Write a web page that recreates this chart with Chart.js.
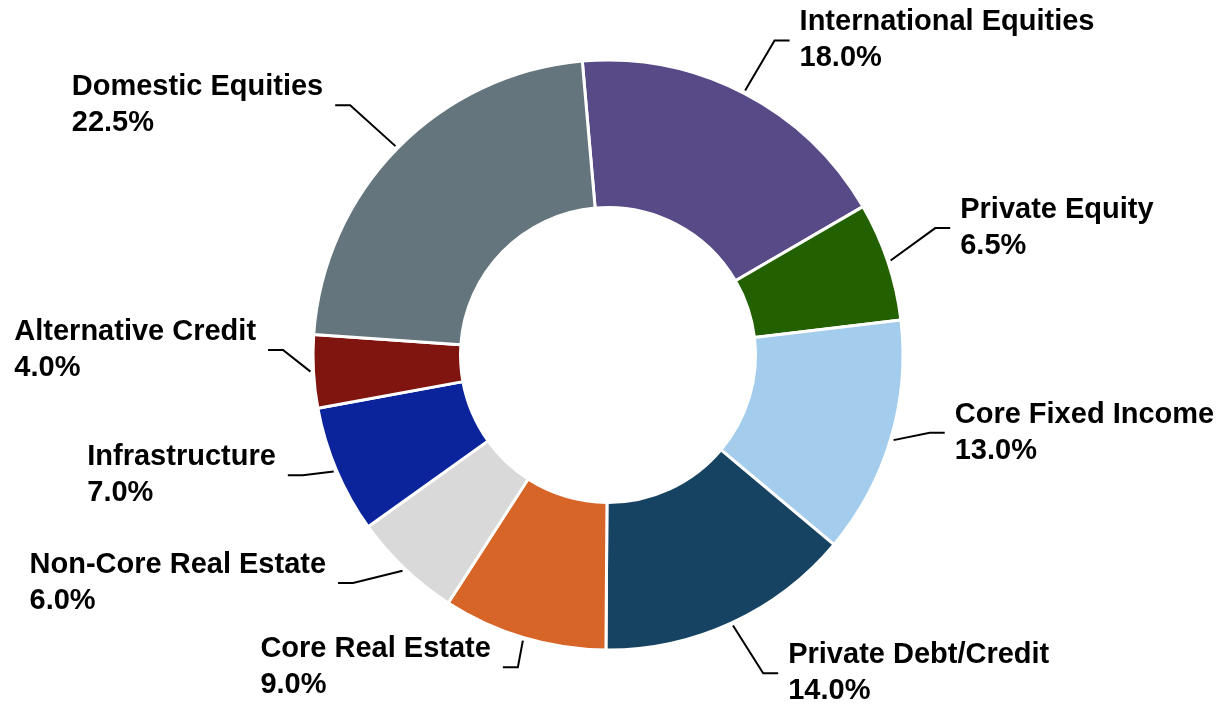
<!DOCTYPE html>
<html lang="en">
<head>
    <meta charset="UTF-8">
    <title>Asset Allocation</title>
    <script src="https://cdn.jsdelivr.net/npm/chart.js"></script>
    <style>
        body { margin: 0; background: #fff; }
        canvas { display: block; }
    </style>
</head>
<body>
    <canvas id="allocChart" width="1225" height="707"></canvas>

    <script>
        const categories = [
            'International Equities', 'Private Equity', 'Core Fixed Income',
            'Private Debt/Credit', 'Core Real Estate', 'Non-Core Real Estate',
            'Infrastructure', 'Alternative Credit', 'Domestic Equities'
        ];
        const allocations = [18.0, 6.5, 13.0, 14.0, 9.0, 6.0, 7.0, 4.0, 22.5];
        const sliceColors = [
            '#574A87', '#226000', '#A4CDED', '#174362', '#D86528',
            '#D9D9D9', '#0B249B', '#801510', '#64757D'
        ];

        // label placement: extra leader length past the ring (px) and angle nudge (deg)
        const leaderLength = [61, 56, 36, 59, 30, 47, 33, 30, 64];
        const leaderNudge = [0.5, -2.7, -3, -1.2, -0.5, 4.6, 1.5, 4.1, -0.4];

        const outsideLabels = {
            id: 'outsideLabels',
            afterDatasetsDraw(chart) {
                const ctx = chart.ctx;
                const meta = chart.getDatasetMeta(0);
                ctx.save();
                ctx.font = 'bold 29px "Liberation Sans", Arial, sans-serif';
                ctx.fillStyle = '#000';
                ctx.strokeStyle = '#000';
                ctx.lineWidth = 2;
                ctx.textBaseline = 'middle';
                ctx.textAlign = 'left';
                meta.data.forEach((arc, i) => {
                    const p = arc.getProps(['x', 'y', 'startAngle', 'endAngle', 'outerRadius'], true);
                    const mid = (p.startAngle + p.endAngle) / 2;
                    const bend = mid + leaderNudge[i] * Math.PI / 180;
                    const x0 = p.x + (p.outerRadius + 3) * Math.cos(mid);
                    const y0 = p.y + (p.outerRadius + 3) * Math.sin(mid);
                    const r1 = p.outerRadius + leaderLength[i];
                    const x1 = p.x + r1 * Math.cos(bend);
                    const y1 = p.y + r1 * Math.sin(bend);
                    const right = Math.cos(bend) >= 0;
                    const x2 = right ? x1 + 15 : x1 - 15;

                    ctx.beginPath();
                    ctx.moveTo(x0, y0);
                    ctx.lineTo(x1, y1);
                    ctx.lineTo(x2, y1);
                    ctx.stroke();

                    const lines = [categories[i], allocations[i].toFixed(1) + '%'];
                    const w = Math.max(...lines.map(t => ctx.measureText(t).width));
                    const tx = right ? x2 + 10 : x2 - 12 - w;
                    ctx.fillText(lines[0], tx, y1 - 18);
                    ctx.fillText(lines[1], tx, y1 + 18);
                });
                ctx.restore();
            }
        };

        const ctx = document.getElementById('allocChart').getContext('2d');
        new Chart(ctx, {
            type: 'doughnut',
            data: {
                labels: categories,
                datasets: [{
                    data: allocations,
                    backgroundColor: sliceColors,
                    borderColor: '#ffffff',
                    borderWidth: 3
                }]
            },
            options: {
                responsive: false,
                animation: false,
                devicePixelRatio: 1,
                rotation: -5,
                cutout: '50%',
                layout: {
                    padding: { top: 58.5, bottom: 55.5, left: 300, right: 309 }
                },
                plugins: {
                    legend: { display: false },
                    tooltip: { enabled: false }
                }
            },
            plugins: [outsideLabels]
        });
    </script>
</body>
</html>
